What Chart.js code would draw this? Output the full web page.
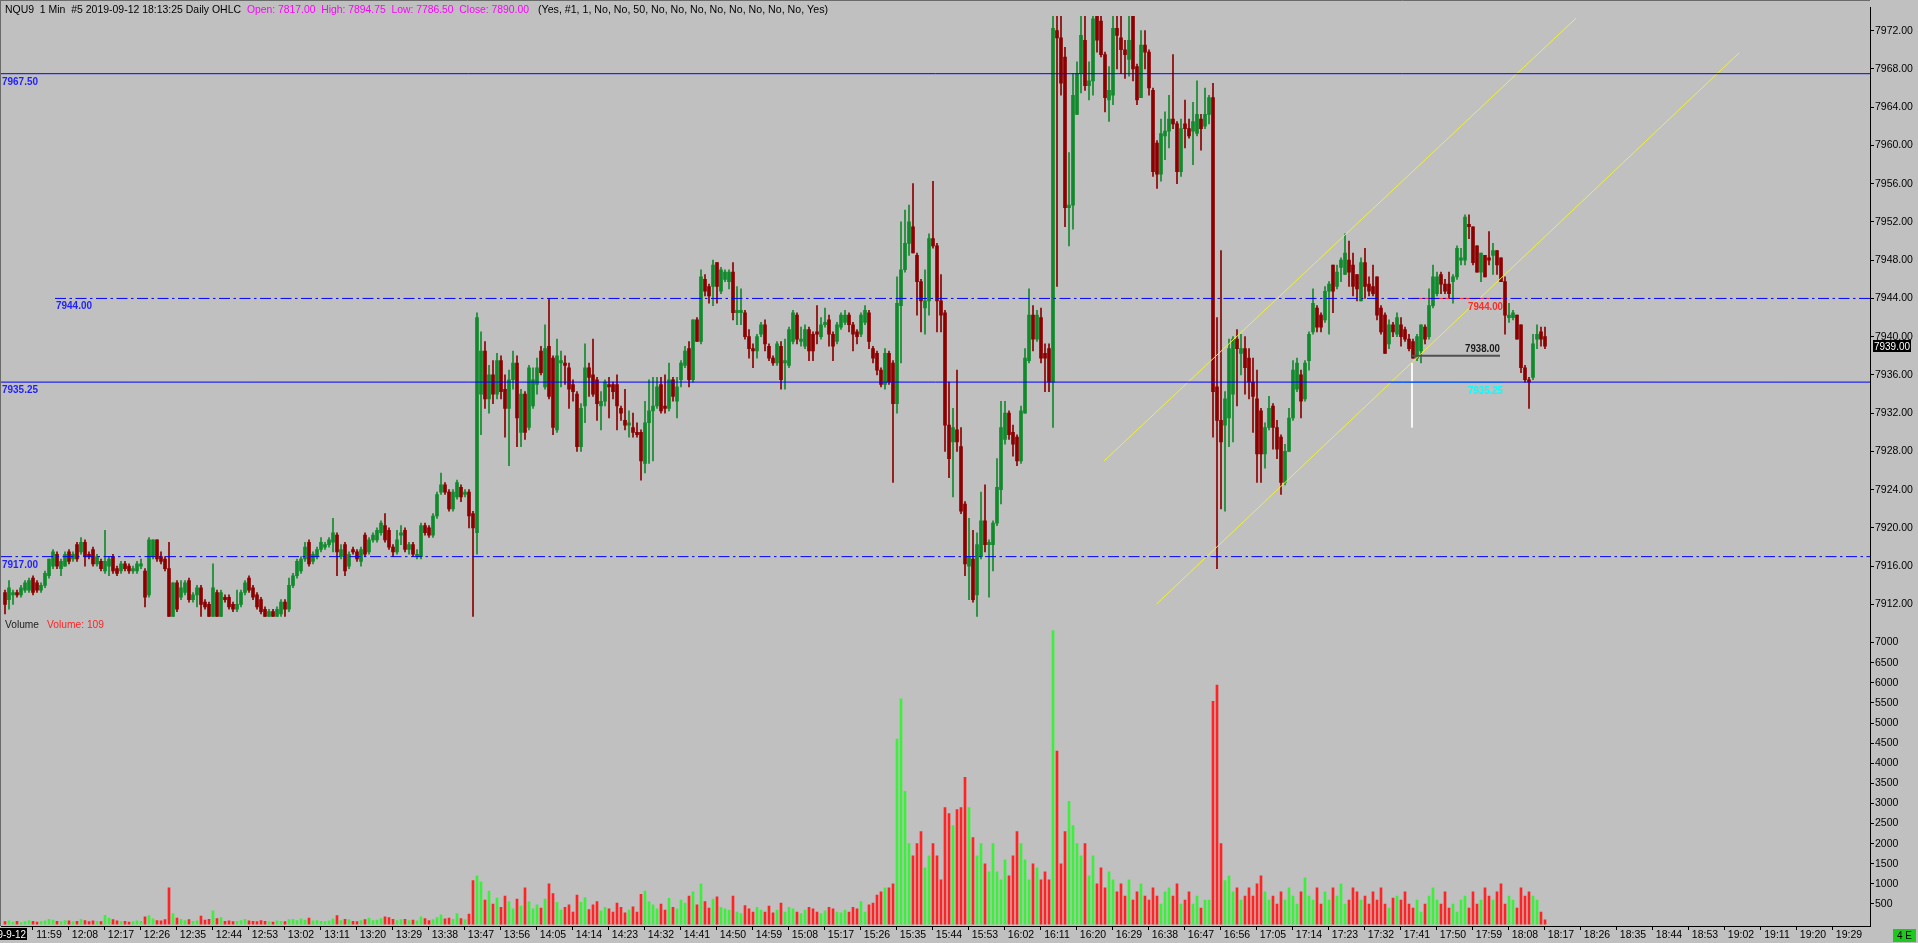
<!DOCTYPE html>
<html>
<head>
<meta charset="utf-8">
<title>NQU9 1 Min</title>
<script src="https://cdn.jsdelivr.net/npm/chart.js@4.4.1/dist/chart.umd.min.js"></script>
<style>
	html, body { margin: 0; padding: 0; background: #c0c0c0; overflow: hidden; }
	canvas { display: block; }
</style>
</head>
<body>
<canvas id="chart" width="1918" height="943"></canvas>
<script>
/**
 * NQU9 1 minute OHLC chart with volume pane, drawn with Chart.js.
 * Candles are floating bars (wick + body), the volume pane is a
 * second y axis stacked under the price axis.
 */
(function () {
	'use strict';

	// one bar per minute, starting at FIRST_BAR
	var FIRST_BAR = '11:48';

	var opens = [
		7913.25, 7912.5, 7913, 7913.25, 7913, 7913.5, 7913.5, 7914.75, 7914.25, 7913.5,
		7914, 7915, 7916, 7917.25, 7915.75, 7916, 7917.5, 7916.75, 7918.25, 7917.5,
		7918.5, 7917.25, 7917.75, 7916.25, 7916.5, 7915.5, 7916, 7917, 7915.75, 7915.5,
		7916.25, 7916, 7915.5, 7915.5, 7916, 7915.5, 7913, 7917, 7918.75, 7917,
		7916.75, 7915.75, 7910.75, 7914.25, 7912.75, 7913.25, 7914.5, 7912.5, 7913, 7913.75,
		7912.25, 7912, 7910.75, 7913.25, 7910.75, 7912.75, 7912.75, 7912, 7911.5, 7912,
		7913.25, 7914.75, 7913.75, 7913, 7912.5, 7911.5, 7910.75, 7911.25, 7910.75, 7911,
		7912.25, 7911.5, 7914, 7915, 7915.5, 7916.75, 7918.5, 7916.5, 7917, 7917.75,
		7918, 7918.25, 7918.5, 7919.25, 7917, 7918.25, 7916, 7917.75, 7917.5, 7916.5,
		7919.25, 7917.5, 7918.75, 7918.75, 7919.5, 7920.25, 7919.75, 7918, 7917.5, 7919.25,
		7919.75, 7917.75, 7918.25, 7917, 7917, 7920.25, 7920, 7919.25, 7921.25, 7923.75, 7924.5,
		7923.75, 7922, 7923.25, 7924.25, 7923.5, 7923.75, 7921.5, 7919.5, 7934, 7938.5,
		7933.5, 7936, 7934, 7937.5, 7934.5, 7932.5, 7935.5, 7937.25, 7930, 7934,
		7930.5, 7932.75, 7935, 7938.5, 7934.75, 7939, 7937.75, 7930.25, 7937.25, 7937.25,
		7936.75, 7935, 7934, 7928.5, 7932.75, 7936.75, 7936, 7935.5, 7932.75, 7933.25,
		7935, 7935, 7935, 7932.5, 7931.25, 7930.75, 7930.5, 7930, 7930, 7926.75,
		7931, 7932.25, 7932.75, 7935, 7932.75, 7932.5, 7935.5, 7933.25, 7935.5, 7937,
		7938.75, 7935.5, 7941.75, 7939.5, 7946, 7945.25, 7945.25, 7947.75, 7944.75, 7946,
		7945.75, 7946.75, 7942.5, 7942.5, 7942.5, 7940, 7938.75, 7938.5, 7940.25, 7941.25,
		7939, 7937.75, 7937.25, 7939, 7937.25, 7937, 7939.5, 7942.25, 7939.5, 7939,
		7940.75, 7940.25, 7940.5, 7940, 7941.25, 7941.75, 7940.25, 7939.5, 7941, 7941.5,
		7942.25, 7941.25, 7940.5, 7940.25, 7941.5, 7942.5, 7938.75, 7938.25, 7936.5, 7935,
		7938.25, 7937.25, 7933, 7943.25, 7947, 7949.75, 7951.5, 7948.5, 7945.75, 7943,
		7943.75, 7950.25, 7949.5, 7943.75, 7942.5, 7930.75, 7929, 7930.25, 7928.5, 7922.5,
		7916, 7916.75, 7913, 7917, 7920.75, 7918.25, 7918.25, 7920.5, 7924, 7929.25,
		7932, 7930, 7929.5, 7927, 7932, 7937.5, 7942.25, 7939.75, 7942, 7938.25,
		7938.75, 7935.25, 7972, 7971.25, 7969.25, 7953.5, 7953.75, 7963.25, 7967.5, 7971,
		7966.25, 7966.75, 7973.5, 7973, 7969.5, 7964.75, 7965.25, 7972.25, 7971.25, 7970,
		7969, 7973.5, 7968.25, 7965, 7970.5, 7969.75, 7965.75, 7960.25, 7957, 7961,
		7961.5, 7962.75, 7962.25, 7957.25, 7962.25, 7961.75, 7961.5, 7961.25, 7962.75, 7962,
		7963.25, 7965, 7934.75, 7931.25, 7930.75, 7931.5, 7934, 7939.75, 7938.25, 7938.75,
		7937.75, 7935.25, 7933.5, 7932.25, 7927.75, 7930.5, 7932.75, 7930.5, 7929.5, 7924.75,
		7928, 7931.5, 7934.5, 7936, 7933.5, 7937.5, 7940.5, 7943, 7942.25, 7941.75,
		7944.75, 7947.5, 7945.25, 7947.25, 7946.5, 7948, 7947.5, 7946.5, 7943.75, 7947.75,
		7945.5, 7945.25, 7946.25, 7943, 7942.25, 7939.25, 7941.25, 7940.25, 7941.25, 7940.75, 7939.75,
		7939.5, 7937.75, 7938.5, 7941, 7940, 7943.25, 7944.5, 7946.5, 7945.5, 7945.5,
		7945.75, 7946.25, 7948, 7948, 7951.75, 7951.5, 7949.5, 7946.75, 7948.5, 7948.25,
		7948.5, 7949, 7948.25, 7945.75, 7942, 7942, 7942.25, 7941.25, 7936.75, 7935.5,
		7935.75, 7939.75, 7940.5, 7940
	];

	var highs = [
		7913.5, 7914.5, 7913.5, 7913.5, 7914, 7914.5, 7914.75, 7915, 7914.5, 7914.25,
		7915.5, 7916.75, 7917.75, 7917.5, 7916.75, 7917.5, 7917.75, 7917.5, 7918.5, 7919,
		7918.75, 7917.5, 7918, 7917.25, 7916.75, 7919.75, 7917, 7917.25, 7916, 7916.5,
		7916.5, 7916.25, 7916, 7916.5, 7916.75, 7915.75, 7919, 7918.75, 7918.75, 7917.5,
		7917, 7918.5, 7914.25, 7914.5, 7914.5, 7914.5, 7914.75, 7913.25, 7914, 7914,
		7912.5, 7912.25, 7916.25, 7913.5, 7913.5, 7913, 7913, 7912.25, 7913.5, 7913.5,
		7914.5, 7915, 7914, 7913.25, 7912.75, 7911.75, 7911.5, 7911.5, 7911.75, 7912.5,
		7912.5, 7914.75, 7915.25, 7916.75, 7917, 7918.5, 7918.75, 7917.5, 7918, 7919,
		7918.5, 7919, 7921, 7919.5, 7918.25, 7918.5, 7917.5, 7918, 7917.75, 7918,
		7919.5, 7919, 7919.5, 7920, 7920.75, 7921.5, 7920, 7918.25, 7919.75, 7920.25,
		7920, 7918.5, 7918.5, 7917.75, 7920.5, 7920.5, 7920.25, 7921.5, 7923.75, 7925.75, 7924.75,
		7924, 7924, 7925, 7924.5, 7924, 7924, 7921.75, 7942.5, 7940.5, 7939.5,
		7937, 7937.5, 7938.25, 7938, 7936, 7936.5, 7938.5, 7938, 7934.5, 7934.25,
		7937, 7936.75, 7937.75, 7939, 7941.25, 7944, 7938, 7939.75, 7938.5, 7938,
		7937.25, 7935.5, 7934.25, 7933, 7939.25, 7937.25, 7939.75, 7935.75, 7934.25, 7935.5,
		7935.75, 7935.25, 7936, 7932.75, 7934.5, 7932.25, 7932, 7931, 7930.25, 7933.25,
		7935.5, 7935.75, 7935.75, 7935.75, 7936, 7937.25, 7935.75, 7935.75, 7937.5, 7939,
		7939.5, 7941.75, 7942, 7947, 7946.5, 7945.5, 7948, 7947.75, 7947.25, 7947,
		7947, 7947.75, 7945.25, 7945, 7942.75, 7940.75, 7939.25, 7940.25, 7941.5, 7941.75,
		7939.25, 7938, 7939.5, 7939.5, 7939.75, 7941, 7942.75, 7942.5, 7941, 7941.25,
		7941, 7940.5, 7943.25, 7942, 7943, 7942.25, 7940.5, 7941.5, 7942.5, 7942.75,
		7942.5, 7941.5, 7940.75, 7942.5, 7943.25, 7942.75, 7939, 7938.5, 7936.75, 7938.75,
		7938.5, 7937.5, 7946.25, 7952, 7953.25, 7953.75, 7956, 7948.75, 7946, 7947,
		7950.75, 7956.25, 7949.75, 7946.5, 7942.75, 7935.25, 7932.5, 7936.5, 7930.5, 7922.75,
		7921, 7919.75, 7919.5, 7923.75, 7924.5, 7918.75, 7920.75, 7927.25, 7933.25, 7933.25,
		7932.25, 7930.75, 7929.75, 7932.75, 7938.75, 7945, 7943.25, 7942.75, 7943, 7939.25,
		7939.25, 7973.5, 7973.5, 7973.5, 7970.25, 7959.25, 7967.5, 7968.75, 7973.5, 7973.5,
		7968.75, 7973.5, 7973.5, 7973.5, 7969.75, 7968.25, 7973.5, 7973.5, 7973.5, 7971,
		7973.5, 7973.5, 7968.5, 7972, 7972, 7970, 7966, 7960.5, 7962.75, 7963.5,
		7965.25, 7969.5, 7962.5, 7962.75, 7964.75, 7962.75, 7964.5, 7966.75, 7963.25, 7966,
		7965.25, 7966.5, 7942, 7949, 7934.25, 7939.75, 7940, 7940.75, 7940.25, 7940,
		7938.75, 7937.75, 7936.5, 7932.5, 7931, 7933.75, 7933, 7931.25, 7929.75, 7928.75,
		7932.5, 7937.5, 7937.75, 7936.5, 7937.5, 7940.5, 7945, 7943.25, 7942.5, 7945.25,
		7945.75, 7947.5, 7947.5, 7948.25, 7950.75, 7950, 7948.75, 7946.5, 7948.25, 7949.25,
		7946.25, 7947.5, 7946.25, 7943.25, 7942.5, 7941.75, 7941.5, 7942.5, 7942, 7941, 7940.25,
		7939.75, 7940.25, 7941.25, 7941.25, 7945, 7947.5, 7946.75, 7946.75, 7946, 7946.75,
		7946.5, 7949.5, 7949.25, 7952.75, 7952.75, 7951.5, 7949.5, 7948.75, 7948.5, 7951,
		7949.75, 7949, 7948.25, 7946.25, 7943.5, 7942.75, 7942.25, 7941.25, 7937, 7935.75,
		7940.25, 7941.25, 7941, 7941
	];

	var lows = [
		7911, 7911.5, 7912, 7912.75, 7912.75, 7913.25, 7913.25, 7913, 7913.25, 7913.25,
		7913.75, 7914.75, 7915.75, 7915.75, 7915, 7916, 7916.25, 7916.5, 7916.5, 7917.25,
		7916, 7916.75, 7916, 7916, 7915.5, 7915.25, 7915, 7915.25, 7915, 7915.25,
		7915.5, 7915.25, 7915.25, 7915.25, 7915.75, 7911.75, 7912.75, 7916.75, 7916.5, 7916.25,
		7915.5, 7910.75, 7910.75, 7911.25, 7912.5, 7913, 7912.25, 7912.25, 7911.75, 7910.75,
		7911.5, 7910.75, 7910.75, 7910.75, 7910.75, 7912.25, 7911.5, 7911.25, 7911.25, 7911.75,
		7913, 7913.25, 7912.5, 7911.5, 7911, 7910.75, 7910.75, 7910.75, 7910.75, 7910.75,
		7910.75, 7911.25, 7913.75, 7914.75, 7915.25, 7916.5, 7916, 7916.25, 7916.75, 7917.5,
		7917.75, 7918, 7917.5, 7915, 7916.75, 7915, 7915.75, 7917.25, 7916.5, 7916,
		7917, 7917.25, 7918.5, 7918.5, 7919.25, 7918.5, 7917.75, 7917, 7917.25, 7918.25,
		7917.5, 7917.25, 7917, 7916.75, 7916.75, 7919.25, 7919, 7919, 7921, 7923.5, 7923.5,
		7921.75, 7921.75, 7923, 7922.75, 7923.25, 7920, 7910.75, 7917.25, 7929.75, 7932.5,
		7932, 7933, 7933.5, 7933.5, 7929.5, 7926.5, 7934.5, 7928.5, 7928.5, 7929.25,
		7930.25, 7932.5, 7934, 7936, 7934.5, 7933.5, 7929.75, 7930, 7934.75, 7935,
		7932.5, 7933.25, 7928, 7928, 7931, 7933.75, 7933.75, 7931.25, 7930.25, 7932.75,
		7931.5, 7933.5, 7930.25, 7931.25, 7930.25, 7929.5, 7929.5, 7929.5, 7925, 7925.75,
		7926.75, 7927, 7932.5, 7932, 7932, 7932.25, 7933.25, 7931.5, 7934.75, 7936.75,
		7934.75, 7935.25, 7939.5, 7939.25, 7944.25, 7943.5, 7943.25, 7943.5, 7944.5, 7945.75,
		7945, 7941.75, 7941.25, 7941.25, 7939.75, 7937.75, 7936.75, 7937.75, 7940, 7938.5,
		7937.5, 7937, 7937, 7934.5, 7934.5, 7936.75, 7939.25, 7939.25, 7939, 7938.75,
		7937.5, 7937.5, 7939.25, 7939.75, 7941, 7939, 7937.5, 7939.25, 7940.75, 7941.25,
		7940.5, 7938.5, 7939.25, 7940, 7941.25, 7938.75, 7937.25, 7936, 7934.75, 7934.5,
		7935, 7924.75, 7932, 7937.25, 7946.75, 7948.5, 7948.75, 7942.25, 7940.5, 7940.25,
		7942.25, 7949.25, 7940.5, 7940.5, 7928, 7925.25, 7923.25, 7928, 7921.5, 7915,
		7912.5, 7912.25, 7910.75, 7916.75, 7917.5, 7912.75, 7915.5, 7920.25, 7922.5, 7928.75,
		7929.25, 7927.5, 7926.5, 7926.75, 7932, 7937.25, 7938.5, 7939.5, 7937.25, 7934.25,
		7934.25, 7930.5, 7945.25, 7965.25, 7951.5, 7949.5, 7951.25, 7963.25, 7965.5, 7965.75,
		7964.75, 7965.25, 7969.75, 7969.25, 7963.5, 7962.5, 7964.25, 7968, 7967.5, 7967,
		7967.25, 7966.75, 7964.25, 7965, 7968, 7965.25, 7956.75, 7955.5, 7956.25, 7958.5,
		7959.75, 7961.75, 7956, 7956.75, 7959.75, 7960.75, 7958, 7961, 7959.5, 7961.75,
		7962.25, 7929.5, 7915.75, 7922, 7921.75, 7928.5, 7929, 7932.75, 7936, 7934,
		7933.5, 7930, 7924.75, 7924.75, 7926.25, 7930.25, 7928.25, 7927.25, 7923.5, 7924.5,
		7928, 7931.25, 7934.25, 7931.5, 7933.25, 7936.5, 7940.25, 7940.5, 7940.5, 7941.5,
		7940.25, 7942.5, 7945, 7945.75, 7946.5, 7945.25, 7944.25, 7943.75, 7943.75, 7944,
		7944.25, 7944.25, 7941.75, 7940.25, 7938.25, 7938.75, 7940, 7940, 7939, 7939.5, 7938.5,
		7937.75, 7937.5, 7937.25, 7939.25, 7939.75, 7943, 7944.25, 7944.5, 7944.5, 7944,
		7943.5, 7946, 7947.5, 7947.5, 7950.25, 7947.5, 7946.75, 7945.75, 7946.25, 7947.5,
		7946.5, 7946.5, 7945.75, 7940.25, 7941.5, 7941.75, 7939.75, 7936.25, 7935.25, 7932.5,
		7935.5, 7938.75, 7939, 7938.75
	];

	var closes = [
		7912, 7913.75, 7913.25, 7913, 7913.75, 7914.25, 7914.5, 7913.25, 7913.5, 7914,
		7915.25, 7916.75, 7917.5, 7916, 7916.5, 7917.25, 7916.5, 7917.25, 7916.75, 7918.5,
		7917, 7917, 7916.25, 7917, 7915.75, 7916.5, 7916.75, 7915.5, 7915.25, 7916.25,
		7915.75, 7915.5, 7915.75, 7916.25, 7916.25, 7912.75, 7918.75, 7918.75, 7916.75, 7916.5,
		7915.75, 7910.75, 7914.25, 7911.5, 7913.75, 7914.25, 7912.5, 7913, 7913.75, 7912,
		7911.75, 7910.75, 7913.75, 7910.75, 7913.25, 7912.5, 7911.75, 7911.5, 7912, 7913.25,
		7914.25, 7913.5, 7912.75, 7911.75, 7911.25, 7910.75, 7911.25, 7910.75, 7911.5, 7912.25,
		7911.5, 7914, 7915, 7916.5, 7916.75, 7918, 7916.25, 7917.25, 7917.75, 7918.5,
		7918.25, 7918.75, 7919.5, 7917.5, 7917.75, 7915.5, 7917.25, 7917.5, 7916.75, 7917.75,
		7917.25, 7918.75, 7919.25, 7919.75, 7920.5, 7918.75, 7918, 7917.5, 7918.75, 7919.5,
		7917.75, 7918.25, 7917.25, 7917.25, 7920.25, 7919.5, 7919.25, 7921.25, 7923.5, 7924.5, 7923.75,
		7922, 7923.75, 7924.75, 7923.25, 7923.75, 7921.25, 7920, 7942, 7938.5, 7933.5,
		7936, 7934, 7937.5, 7934.25, 7932.5, 7935.5, 7937.25, 7931.5, 7934, 7930,
		7936.75, 7935.5, 7936.75, 7936.25, 7938.75, 7933.75, 7930.5, 7938, 7937.5, 7937,
		7934.5, 7934.25, 7928.5, 7932.5, 7936.75, 7935.75, 7934, 7933, 7933.25, 7935.25,
		7934.75, 7934.25, 7932.75, 7932, 7930.75, 7931, 7930, 7929.75, 7927, 7931,
		7932.25, 7932.75, 7934.75, 7932.25, 7932.5, 7935.5, 7933.75, 7934.75, 7937.25, 7938.5,
		7935.5, 7941.75, 7939.5, 7946.25, 7944.75, 7944.25, 7947.5, 7945.25, 7947, 7946.75,
		7946.75, 7942.5, 7942.75, 7942.75, 7940, 7938.75, 7938.5, 7940, 7941.25, 7939.25,
		7937.75, 7937.25, 7939.25, 7935.5, 7937.5, 7940.75, 7942.5, 7939.75, 7939.75, 7940.75,
		7938.5, 7938.5, 7940.25, 7941.25, 7941.5, 7940.25, 7939, 7941.25, 7942.25, 7942.25,
		7941.25, 7940.25, 7940, 7942.25, 7942.75, 7939.5, 7937.75, 7936.5, 7935, 7938.25,
		7935.25, 7933, 7943.5, 7947, 7949.75, 7952, 7948.75, 7945.75, 7943.75, 7943.75,
		7950.25, 7949.5, 7943.75, 7942.25, 7930.75, 7927.25, 7930.5, 7929, 7921.75, 7916.25,
		7917, 7912.5, 7918.25, 7920.75, 7918.25, 7918.5, 7920.5, 7924.25, 7930.5, 7932,
		7929.75, 7928.75, 7927, 7932.25, 7937.75, 7942.25, 7939.75, 7942.25, 7937.75, 7937.75,
		7935.25, 7972.25, 7971.25, 7966.5, 7953.5, 7953.75, 7965.25, 7967.5, 7971.5, 7966.25,
		7966.75, 7973.25, 7971, 7969.5, 7965, 7965.75, 7972.25, 7971.5, 7970, 7969.5,
		7971, 7968, 7964.75, 7970.5, 7969.75, 7966, 7957.25, 7957, 7961.25, 7961.5,
		7962.75, 7962.25, 7957.25, 7961.75, 7961.75, 7961, 7962.5, 7963.25, 7961.75, 7963.25,
		7965, 7934.25, 7931.25, 7929, 7933.5, 7938.75, 7939.75, 7938.75, 7938.75, 7936.75,
		7935.25, 7933.75, 7927.75, 7927.75, 7930.5, 7932.5, 7930.5, 7928.25, 7924.75, 7928,
		7931.5, 7936.5, 7937.25, 7933.25, 7937.25, 7940.25, 7943.5, 7941, 7941, 7944.75,
		7945.5, 7944.75, 7946.75, 7948, 7948.75, 7946.75, 7945.25, 7945, 7947.75, 7945.25,
		7944.75, 7944.5, 7942.25, 7940.5, 7938.25, 7941.25, 7940.5, 7942, 7940, 7939.75, 7938.75,
		7937.75, 7940, 7941.25, 7939.75, 7943.25, 7946.25, 7946.25, 7945.5, 7944.75, 7944.5,
		7946.25, 7949.25, 7948.25, 7952.5, 7951.5, 7947.75, 7946.75, 7948.75, 7946.25, 7948,
		7949, 7947.5, 7945.75, 7942.25, 7942.25, 7942.5, 7939.75, 7936.75, 7935.5, 7935.25,
		7939.25, 7940.25, 7939.75, 7939
	];

	var volumes = [
		60, 80, 50, 70, 40, 60, 90, 70, 50, 60,
		80, 120, 100, 70, 60, 90, 80, 60, 70, 120,
		90, 60, 80, 70, 60, 220, 150, 110, 80, 60,
		70, 50, 60, 80, 70, 180, 210, 130, 90, 80,
		110, 900, 260, 150, 120, 90, 110, 70, 80, 200,
		100, 120, 330, 140, 160, 70, 80, 60, 70, 90,
		120, 80, 70, 60, 90, 70, 60, 50, 80, 70,
		60, 110, 120, 90, 130, 100, 150, 80, 90, 70,
		60, 80, 130, 210, 90, 120, 110, 70, 60, 90,
		110, 150, 90, 100, 140, 180, 160, 120, 90, 110,
		120, 90, 100, 80, 180, 140, 90, 110, 160, 230, 130,
		150, 120, 260, 140, 110, 250, 1080, 1200, 1050, 600,
		820, 500, 650, 420, 700, 560, 380, 620, 450, 900,
		560, 380, 480, 400, 620, 1000, 760, 540, 350, 420,
		480, 300, 720, 540, 660, 360, 480, 560, 330, 420,
		380, 300, 520, 420, 280, 350, 430, 300, 740, 820,
		560, 480, 380, 500, 350, 640, 420, 380, 600, 520,
		700, 800, 480, 1000, 560, 400, 620, 680, 420, 380,
		350, 700, 300, 260, 460, 380, 300, 420, 350, 300,
		450, 280, 350, 520, 300, 420, 380, 300, 260, 350,
		420, 380, 300, 260, 330, 420, 380, 300, 280, 350,
		300, 420, 380, 560, 300, 480, 520, 720, 800, 900,
		900, 1000, 4600, 5600, 3300, 2000, 1700, 2000, 2300, 1400,
		1700, 2000, 1700, 1100, 2900, 2750, 2450, 2850, 2900, 3650,
		2900, 2150, 1700, 2000, 1500, 1300, 2000, 1300, 1100, 1600,
		1200, 1700, 2300, 2000, 1600, 1100, 1500, 1400, 1100, 1300,
		1100, 7300, 4300, 1500, 2300, 3050, 2450, 2000, 1700, 2000,
		1200, 1700, 1000, 1400, 900, 1300, 1100, 800, 1000, 700,
		1100, 600, 800, 1000, 700, 600, 900, 700, 500, 800,
		900, 700, 1000, 500, 600, 800, 500, 700, 400, 600,
		600, 5540, 5940, 2000, 1080, 1200, 800, 900, 600, 700,
		900, 700, 1000, 1200, 800, 600, 700, 500, 800, 600,
		900, 700, 500, 800, 1150, 700, 600, 900, 500, 800,
		600, 900, 700, 1000, 500, 600, 900, 800, 600, 700,
		500, 800, 600, 900, 500, 400, 650, 700, 600, 800, 500,
		400, 600, 300, 500, 700, 900, 600, 500, 800, 400,
		500, 300, 600, 700, 400, 800, 500, 600, 900, 700,
		600, 800, 1000, 500, 700, 600, 400, 900, 700, 800,
		700, 600, 300, 109
	];

	var timeLabels = [
		'11:59', '12:08', '12:17', '12:26', '12:35', '12:44', '12:53', '13:02', '13:11', '13:20',
		'13:29', '13:38', '13:47', '13:56', '14:05', '14:14', '14:23', '14:32', '14:41', '14:50',
		'14:59', '15:08', '15:17', '15:26', '15:35', '15:44', '15:53', '16:02', '16:11', '16:20',
		'16:29', '16:38', '16:47', '16:56', '17:05', '17:14', '17:23', '17:32', '17:41', '17:50',
		'17:59', '18:08', '18:17', '18:26', '18:35', '18:44', '18:53', '19:02', '19:11', '19:20',
		'19:29'
	];
	var priceTicks = [7912, 7916, 7920, 7924, 7928, 7932, 7936, 7940, 7944, 7948, 7952, 7956, 7960, 7964, 7968, 7972];
	var volumeTicks = [500, 1000, 1500, 2000, 2500, 3000, 3500, 4000, 4500, 5000, 5500, 6000, 6500, 7000];

	// horizontal price levels and the minute they start at (null = left edge)
	var levelPrices = [7967.5, 7944, 7935.25, 7917];
	var levelStarts = [null, 720.5, null, null];

	// short marker lines near the end of the session
	var markPrices = [7944, 7938, 7935.25];
	var markFrom = [1059.75, 1059.75, 1054.25];
	var markTo = [1082.5, 1081.75, 1082.5];
	var pivotTime = 1059.75;
	var pivotPrices = [7937.25, 7930.5];

	// two parallel channel lines, [start, end] in minutes and prices
	var channelTimes = [[982.75, 1100.75], [995.9, 1141.6]];
	var channelPrices = [[7927, 7973.3], [7912.05, 7969.7]];

	var header = [
		'NQU9  1 Min  #5 2019-09-12 18:13:25 Daily OHLC',
		'Open: 7817.00  High: 7894.75  Low: 7786.50  Close: 7890.00',
		'(Yes, #1, 1, No, No, 50, No, No, No, No, No, No, No, No, Yes)'
	];

	var X_MIN = 707;
	var X_MAX = 1174.25;
	var FONT = '"Liberation Sans", Arial, sans-serif';

	var UP = '#118a2d';
	var DOWN = '#8c0000';
	var VOL_UP = '#3cef3c';
	var VOL_DOWN = '#ff2424';
	var BLUE = '#0000ff';
	var YELLOW = '#f0f03c';
	var levelDashed = [false, true, false, true];
	var markColors = ['#ff2a2a', '#505050', '#00ffff'];
	var markWidths = [1, 2, 1];
	var markTextColors = ['#ff2a2a', '#1a1a1a', '#00ffff'];

	function toMinutes(s) {
		var p = s.split(':');
		return Number(p[0]) * 60 + Number(p[1]);
	}

	var t0 = toMinutes(FIRST_BAR);
	var bodyData = [];
	var wickData = [];
	var volumeData = [];
	closes.forEach(function (c, i) {
		var t = t0 + i;
		bodyData.push({ x: t, y: [opens[i], c] });
		wickData.push({ x: t, y: [lows[i], highs[i]] });
		volumeData.push({ x: t, y: volumes[i] });
	});

	function byDirection(up, down) {
		return function (ctx) {
			var i = ctx.dataIndex;
			return closes[i] >= opens[i] ? up : down;
		};
	}

	function segment(points, color, width, dash) {
		return {
			type: 'line',
			data: points,
			yAxisID: 'y',
			borderColor: color,
			borderWidth: width,
			borderDash: dash || [],
			pointRadius: 0,
			fill: false,
			order: 0
		};
	}

	var datasets = [];

	levelPrices.forEach(function (p, i) {
		var start = levelStarts[i] === null ? X_MIN : levelStarts[i];
		datasets.push(segment([{ x: start, y: p }, { x: X_MAX, y: p }], BLUE, 1,
			levelDashed[i] ? [11, 3.5, 2.5, 3.5] : null));
	});
	markPrices.forEach(function (p, i) {
		datasets.push(segment([{ x: markFrom[i], y: p }, { x: markTo[i], y: p }], markColors[i], markWidths[i]));
	});
	datasets.push(segment([{ x: pivotTime, y: pivotPrices[0] }, { x: pivotTime, y: pivotPrices[1] }], '#ffffff', 1));
	channelTimes.forEach(function (ts, i) {
		datasets.push(segment([{ x: ts[0], y: channelPrices[i][0] }, { x: ts[1], y: channelPrices[i][1] }], YELLOW, 1));
	});

	datasets.push({
		type: 'bar',
		data: bodyData,
		yAxisID: 'y',
		grouped: false,
		barThickness: 3,
		minBarLength: 1,
		backgroundColor: byDirection(UP, DOWN),
		order: 1
	});
	datasets.push({
		type: 'bar',
		data: wickData,
		yAxisID: 'y',
		grouped: false,
		barThickness: 1,
		backgroundColor: byDirection(UP, DOWN),
		order: 2
	});
	datasets.push({
		type: 'bar',
		data: volumeData,
		yAxisID: 'yv',
		grouped: false,
		barThickness: 2,
		backgroundColor: byDirection(VOL_UP, VOL_DOWN),
		order: 3
	});

	// draws text squeezed to a given width, like the terminal's narrow font
	function fitText(ctx, text, x, y, width, font, color, align) {
		ctx.save();
		ctx.font = font;
		ctx.fillStyle = color;
		ctx.textAlign = 'left';
		ctx.textBaseline = 'alphabetic';
		var w = ctx.measureText(text).width;
		ctx.translate(align === 'right' ? x - width : x, y);
		ctx.scale(width / w, 1);
		ctx.fillText(text, 0, 0);
		ctx.restore();
	}

	var overlay = {
		id: 'overlay',
		beforeDraw: function (chart) {
			var ctx = chart.ctx;
			ctx.save();
			ctx.fillStyle = '#c0c0c0';
			ctx.fillRect(0, 0, chart.width, chart.height);
			ctx.restore();
		},
		afterDraw: function (chart) {
			var ctx = chart.ctx;
			var xs = chart.scales.x;
			var ys = chart.scales.y;
			var area = chart.chartArea;
			var labelFont = 'bold 11px ' + FONT;

			// frame
			ctx.save();
			ctx.strokeStyle = '#6a6a6a';
			ctx.lineWidth = 1;
			ctx.beginPath();
			ctx.moveTo(0, 0.5);
			ctx.lineTo(area.right, 0.5);
			ctx.moveTo(0.5, 0);
			ctx.lineTo(0.5, area.bottom);
			ctx.stroke();

			// small marks on the time axis, left of every label
			ctx.strokeStyle = '#000';
			ctx.beginPath();
			timeLabels.forEach(function (l) {
				var px = Math.round(xs.getPixelForValue(toMinutes(l))) - 16.5;
				ctx.moveTo(px, area.bottom);
				ctx.lineTo(px, area.bottom + 4);
			});
			ctx.stroke();
			ctx.restore();

			// header line
			fitText(ctx, header[0], 5, 13, 236, '11px ' + FONT, '#000');
			fitText(ctx, header[1], 247, 13, 282, '11px ' + FONT, '#ff00ff');
			fitText(ctx, header[2], 538, 13, 290, '11px ' + FONT, '#000');

			// level labels on the left
			levelPrices.forEach(function (p, i) {
				var start = levelStarts[i] === null ? X_MIN : levelStarts[i];
				var x = xs.getPixelForValue(start) + 1;
				fitText(ctx, p.toFixed(2), x, ys.getPixelForValue(p) + 11, 36, labelFont, '#1f1fff');
			});

			// marker labels
			markPrices.forEach(function (p, i) {
				var y = ys.getPixelForValue(p);
				var base = i === 1 ? y - 4 : y + 12;
				fitText(ctx, p.toFixed(2), xs.getPixelForValue(markTo[i]), base, 35, labelFont, markTextColors[i], 'right');
			});

			// volume pane caption
			var vTop = chart.scales.yv.top;
			fitText(ctx, 'Volume', 5, vTop + 10, 34, '11px ' + FONT, '#202020');
			fitText(ctx, 'Volume: ' + volumes[volumes.length - 1], 47, vTop + 10, 57, '11px ' + FONT, '#ff2424');

			// last price box on the axis
			var last = closes[closes.length - 1];
			var ly = Math.round(ys.getPixelForValue(last));
			ctx.save();
			ctx.fillStyle = '#000';
			ctx.fillRect(area.right + 3, ly - 6, 38, 12);
			ctx.restore();
			fitText(ctx, last.toFixed(2), area.right + 4, ly + 4, 36, '11px ' + FONT, '#ffffff');

			// date box, bottom left
			ctx.save();
			ctx.fillStyle = '#000';
			ctx.fillRect(0, area.bottom + 2, 27, 12);
			ctx.restore();
			fitText(ctx, '19-9-12', 26, area.bottom + 12, 34, '11px ' + FONT, '#ffffff', 'right');

			// status box, bottom right
			ctx.save();
			ctx.fillStyle = '#1ec81e';
			ctx.fillRect(1893, area.bottom + 3, 23, 13);
			ctx.restore();
			fitText(ctx, '4 E', 1897, area.bottom + 13, 15, '11px ' + FONT, '#000');
		}
	};

	Chart.defaults.font.family = FONT;
	Chart.defaults.font.size = 10.5;
	Chart.defaults.color = '#000';

	new Chart(document.getElementById('chart'), {
		type: 'bar',
		data: { datasets: datasets },
		plugins: [overlay],
		options: {
			responsive: false,
			animation: false,
			devicePixelRatio: 1,
			layout: {
				autoPadding: false,
				padding: { left: 1, top: 6, right: 0, bottom: 0 }
			},
			plugins: {
				legend: { display: false },
				tooltip: { enabled: false }
			},
			scales: {
				x: {
					type: 'linear',
					position: 'bottom',
					min: X_MIN,
					max: X_MAX,
					offset: false,
					bounds: 'data',
					afterFit: function (s) { s.height = 17; },
					afterBuildTicks: function (s) {
						s.ticks = timeLabels.map(function (l) { return { value: toMinutes(l) }; });
					},
					ticks: {
						autoSkip: false,
						maxRotation: 0,
						padding: 3,
						color: '#000',
						callback: function (v, i) { return timeLabels[i]; }
					},
					grid: { display: false, drawTicks: false, offset: false },
					border: { display: true, color: '#000' }
				},
				y: {
					type: 'linear',
					position: 'right',
					stack: 'panes',
					stackWeight: 612,
					min: 7910.538,
					max: 7974.443,
					bounds: 'data',
					afterFit: function (s) { s.width = 48; },
					afterBuildTicks: function (s) {
						s.ticks = priceTicks.map(function (v) { return { value: v }; });
					},
					ticks: {
						autoSkip: false,
						padding: 1,
						color: '#000',
						callback: function (v) { return Number(v).toFixed(2); }
					},
					grid: { drawOnChartArea: false, drawTicks: true, tickLength: 4, color: '#000' },
					border: { display: true, color: '#000' }
				},
				yv: {
					type: 'linear',
					position: 'right',
					stack: 'panes',
					stackWeight: 308,
					min: -47,
					max: 7600,
					bounds: 'data',
					afterFit: function (s) { s.width = 48; },
					afterBuildTicks: function (s) {
						s.ticks = volumeTicks.map(function (v) { return { value: v }; });
					},
					ticks: {
						autoSkip: false,
						padding: 1,
						color: '#000',
						callback: function (v) { return String(v); }
					},
					grid: { drawOnChartArea: false, drawTicks: true, tickLength: 4, color: '#000' },
					border: { display: true, color: '#000' }
				}
			}
		}
	});
})();
</script>
</body>
</html>
